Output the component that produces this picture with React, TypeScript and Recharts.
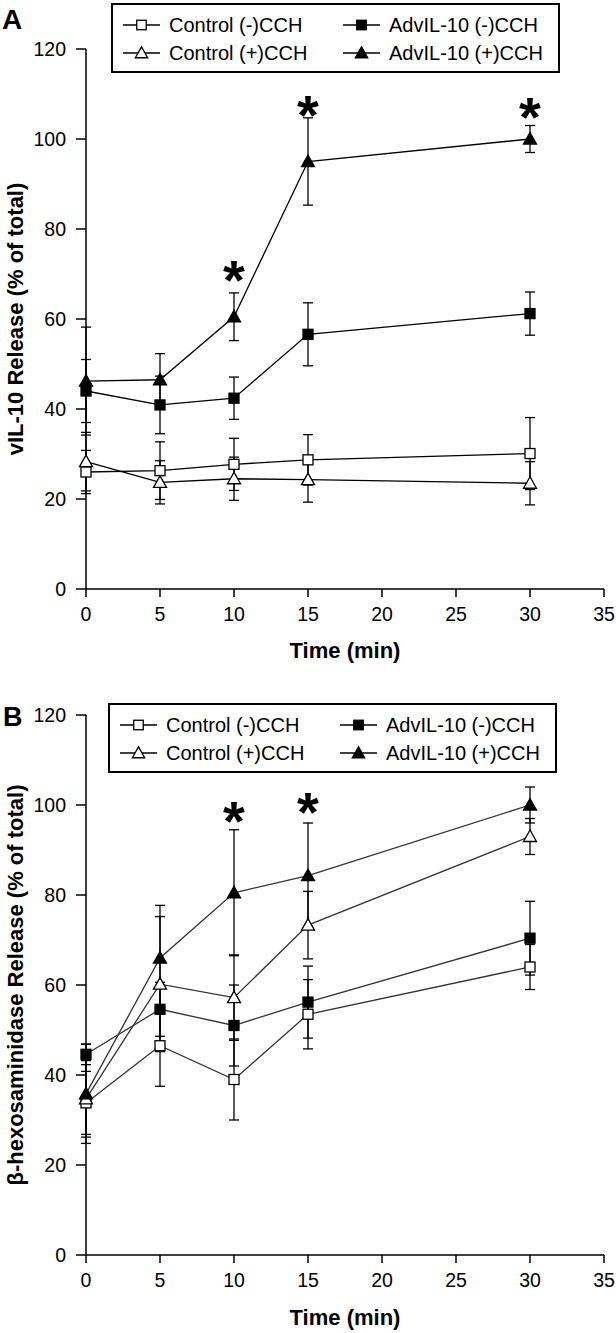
import React from "react";
import { ComposedChart, Line, Scatter, XAxis, YAxis, ErrorBar, Legend } from "recharts";

const times = [0, 5, 10, 15, 30];
const xTicks = [0, 5, 10, 15, 20, 25, 30, 35];
const yTicks = [0, 20, 40, 60, 80, 100, 120];

// panel A: vIL-10 release
const aCtrlMinus = [26, 26.3, 27.7, 28.7, 30.1];
const aCtrlMinusErr = [4.8, 6.4, 5.8, 5.6, 8];
const aCtrlPlus = [28.3, 23.7, 24.5, 24.3, 23.5];
const aCtrlPlusErr = [6.5, 4.8, 4.8, 5, 4.8];
const aAdvMinus = [44, 40.9, 42.4, 56.6, 61.2];
const aAdvMinusErr = [7, 6.4, 4.7, 7, 4.8];
const aAdvPlus = [46.2, 46.5, 60.5, 95, 100];
const aAdvPlusErr = [12, 5.8, 5.3, 9.7, 3];
const aStars = [{ t: 10, v: 70.2 }, { t: 15, v: 107 }, { t: 30, v: 106.4 }];

// panel B: beta-hexosaminidase release
const bCtrlMinus = [33.8, 46.5, 39, 53.5, 64];
const bCtrlMinusErr = [7, 9, 9, 7.7, 5];
const bCtrlPlus = [34.7, 60.2, 57.2, 73.3, 93];
const bCtrlPlusErr = [8.5, 15, 9.5, 7.5, 4];
const bAdvMinus = [44.6, 54.6, 51, 56.2, 70.4];
const bAdvMinusErr = [2.3, 6, 9, 8, 8.2];
const bAdvPlus = [35.8, 66, 80.5, 84.3, 100];
const bAdvPlusErr = [11, 11.7, 14, 11.7, 4];
const bStars = [{ t: 10, v: 97.9 }, { t: 15, v: 100.1 }];

const FONT = "'Liberation Sans', Arial, sans-serif";

type Kind = "sqOpen" | "triOpen" | "sqFill" | "triFill";

const series: { key: string; name: string; kind: Kind }[] = [
  { key: "cm", name: "Control (-)CCH", kind: "sqOpen" },
  { key: "cp", name: "Control (+)CCH", kind: "triOpen" },
  { key: "am", name: "AdvIL-10 (-)CCH", kind: "sqFill" },
  { key: "ap", name: "AdvIL-10 (+)CCH", kind: "triFill" },
];

const buildRows = (cm: number[], cmE: number[], cp: number[], cpE: number[], am: number[], amE: number[], ap: number[], apE: number[]) =>
  times.map((t, i) => ({
    t,
    cm: cm[i], cmE: cmE[i],
    cp: cp[i], cpE: cpE[i],
    am: am[i], amE: amE[i],
    ap: ap[i], apE: apE[i],
  }));

const rowsA = buildRows(aCtrlMinus, aCtrlMinusErr, aCtrlPlus, aCtrlPlusErr, aAdvMinus, aAdvMinusErr, aAdvPlus, aAdvPlusErr);
const rowsB = buildRows(bCtrlMinus, bCtrlMinusErr, bCtrlPlus, bCtrlPlusErr, bAdvMinus, bAdvMinusErr, bAdvPlus, bAdvPlusErr);

function Marker({ kind, cx, cy, s = 1 }: { kind: Kind; cx: number; cy: number; s?: number }) {
  const fill = kind === "sqFill" || kind === "triFill" ? "#000" : "#fff";
  if (kind === "sqOpen" || kind === "sqFill") {
    const h = 5 * s;
    return <rect x={cx - h} y={cy - h} width={2 * h} height={2 * h} fill={fill} stroke="#000" strokeWidth={1.3} />;
  }
  const w = 6.5 * s;
  return (
    <polygon
      points={`${cx},${cy - 6.5 * s} ${cx - w},${cy + 5 * s} ${cx + w},${cy + 5 * s}`}
      fill={fill}
      stroke="#000"
      strokeWidth={1.3}
      strokeLinejoin="miter"
    />
  );
}

function LegendBox() {
  const cols = [10, 230];
  const rows = [20, 48];
  const order = [
    { s: series[0], c: 0, r: 0 },
    { s: series[2], c: 1, r: 0 },
    { s: series[1], c: 0, r: 1 },
    { s: series[3], c: 1, r: 1 },
  ];
  return (
    <div style={{ position: "relative", width: 445, height: 66, border: "2px solid #000", background: "#fff", fontFamily: FONT, fontSize: 20, color: "#000" }}>
      {order.map(({ s, c, r }) => (
        <div key={s.key} style={{ position: "absolute", left: cols[c], top: rows[r] - 12, height: 24, display: "flex", alignItems: "center", whiteSpace: "nowrap" }}>
          <svg width={37} height={24}>
            <line x1={0} x2={37} y1={12} y2={12} stroke="#000" strokeWidth={1.3} />
            <Marker kind={s.kind} cx={18.5} cy={12} s={0.95} />
          </svg>
          <span style={{ marginLeft: 9 }}>{s.name}</span>
        </div>
      ))}
    </div>
  );
}

function Star(props: any) {
  const { cx, cy } = props;
  return (
    <text x={cx} y={cy + 26} textAnchor="middle" fontFamily={FONT} fontWeight="bold" fontSize={56} fill="#000">
      *
    </text>
  );
}

function Panel({ rows, stars, yLabel, lineColor, height, legendLeft, legendTop }: any) {
  return (
    <ComposedChart width={616} height={height} data={rows} margin={{ top: 49, right: 12, bottom: 0, left: 0 }}>
      <XAxis
        type="number"
        dataKey="t"
        domain={[0, 35]}
        ticks={xTicks}
        interval={0}
        height={height - 49 - 540}
        tickSize={8}
        tickMargin={10}
        axisLine={{ stroke: "#000", strokeWidth: 1.5 }}
        tickLine={{ stroke: "#000", strokeWidth: 1.5 }}
        tick={{ fill: "#000", fontSize: 19.5, fontFamily: FONT }}
        label={{ value: "Time (min)", position: "insideBottom", offset: 8, fill: "#000", fontSize: 22, fontWeight: "bold", fontFamily: FONT }}
      />
      <YAxis
        type="number"
        domain={[0, 120]}
        ticks={yTicks}
        interval={0}
        width={86}
        tickSize={10}
        tickMargin={10}
        axisLine={{ stroke: "#000", strokeWidth: 1.5 }}
        tickLine={{ stroke: "#000", strokeWidth: 1.5 }}
        tick={{ fill: "#000", fontSize: 19.5, fontFamily: FONT }}
        label={{ value: yLabel, angle: -90, position: "insideLeft", offset: 15, fill: "#000", fontSize: 22, fontWeight: "bold", fontFamily: FONT, style: { textAnchor: "middle" } }}
      />
      <Legend
        verticalAlign="middle"
        align="center"
        layout="horizontal"
        content={() => <LegendBox />}
        wrapperStyle={{ left: legendLeft, top: legendTop, width: 449, height: 70 }}
      />
      {series.map((s) => (
        <Line
          key={s.key}
          dataKey={s.key}
          name={s.name}
          stroke={lineColor}
          strokeWidth={1.3}
          isAnimationActive={false}
          dot={(p: any) => <Marker key={`${s.key}-${p.index}`} kind={s.kind} cx={p.cx} cy={p.cy} />}
          activeDot={false}
        >
          <ErrorBar dataKey={`${s.key}E`} width={5} stroke="#000" strokeWidth={1.3} direction="y" />
        </Line>
      ))}
      <Scatter data={stars} dataKey="v" shape={<Star />} isAnimationActive={false} legendType="none" />
    </ComposedChart>
  );
}

export default function App() {
  return (
    <div style={{ position: "absolute", left: 0, top: 0, width: 616, height: 1333, background: "#fff" }}>
      <div style={{ position: "absolute", left: 0, top: 0 }}>
        <Panel rows={rowsA} stars={aStars} yLabel="vIL-10 Release (% of total)" lineColor="#000" height={666} legendLeft={111} legendTop={3} />
      </div>
      <div style={{ position: "absolute", left: 0, top: 666 }}>
        <Panel rows={rowsB} stars={bStars} yLabel="β-hexosaminidase Release (% of total)" lineColor="#333" height={667} legendLeft={108} legendTop={37} />
      </div>
      <div style={{ position: "absolute", left: 2, top: 4, fontFamily: FONT, fontWeight: "bold", fontSize: 28 }}>A</div>
      <div style={{ position: "absolute", left: 3, top: 702, fontFamily: FONT, fontWeight: "bold", fontSize: 27 }}>B</div>
    </div>
  );
}
